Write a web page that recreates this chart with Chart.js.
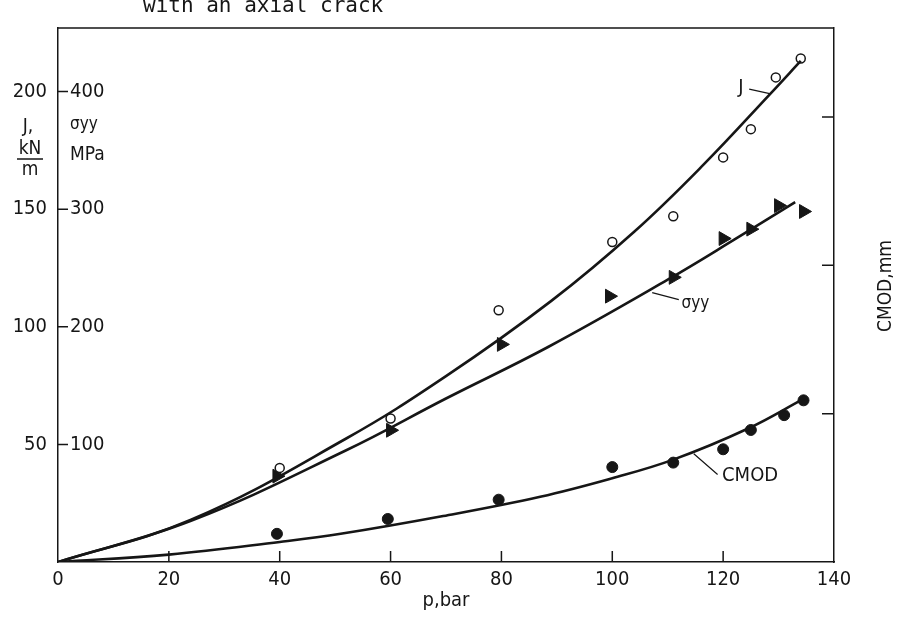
<!DOCTYPE html>
<html>
<head>
<meta charset="utf-8">
<script src="https://cdn.jsdelivr.net/npm/chart.js@4.4.1/dist/chart.umd.min.js"></script>
<style>
  html, body { margin: 0; padding: 0; background: #fff; }
  #wrap { width: 905px; height: 619px; }
</style>
</head>
<body>
<div id="wrap"><canvas id="crackChart" width="905" height="619"></canvas></div>
<script>
// measured points, pressure p in bar
const jPress = [40, 60, 79.5, 100, 111, 120, 125, 129.5, 134];
const jValues = [40, 61, 107, 136, 147, 172, 184, 206, 214];        // J, kN/m

const sPress = [39.5, 60, 80, 99.5, 111, 120, 125, 130, 134.5];
const sValues = [73, 112, 185, 226, 242, 275, 283, 303, 298];       // sigma_yy, MPa

const cPress = [39.5, 59.5, 79.5, 100, 111, 120, 125, 131, 134.5];
const cValues = [0.19, 0.29, 0.42, 0.64, 0.67, 0.76, 0.89, 0.99, 1.09]; // CMOD, mm

// fitted curves as drawn
const jFitPress = [0, 24, 52, 70, 89, 104, 116.5, 128.5, 134];
const jFitValues = [0, 18, 52.5, 79, 111, 140.5, 169, 199, 213];

const sFitPress = [0, 24, 52, 70, 88.5, 110, 122, 133];
const sFitValues = [0, 35, 95, 139, 183, 240, 274, 306];

const cFitPress = [0, 20, 40, 51, 69.5, 87, 100, 111, 124.5, 134.5];
const cFitValues = [0, 0.05, 0.135, 0.19, 0.31, 0.44, 0.565, 0.69, 0.90, 1.10];

// axis ticks
const xTicks = [0, 20, 40, 60, 80, 100, 120, 140];
const jTicks = [50, 100, 150, 200];
const sTicks = [100, 200, 300, 400];
const cmodTicks = [1, 2, 3];

const INK = '#161616';
const FONT = '"Liberation Sans Narrow", "DejaVu Sans Condensed", "Liberation Sans", sans-serif';
const MONO = '"DejaVu Sans Mono", "Liberation Mono", monospace';

const toXY = (xs, ys) => xs.map((v, i) => ({x: v, y: ys[i]}));

function txt(ctx, s, x, y, size, align, font) {
  ctx.font = size + 'px ' + (font || FONT);
  ctx.textAlign = align || 'center';
  ctx.textBaseline = 'middle';
  ctx.fillText(s, x, y);
}

const inkPlugin = {
  id: 'ink',
  afterDraw(chart) {
    const {ctx, chartArea: a, scales} = chart;
    const x = scales.x, y = scales.y, ys = scales.ys, yc = scales.yc;
    ctx.save();
    ctx.strokeStyle = INK;
    ctx.fillStyle = INK;
    ctx.lineWidth = 1.5;

    // frame top + inward tick marks
    ctx.beginPath();
    ctx.moveTo(a.left, a.top); ctx.lineTo(a.right, a.top);
    xTicks.forEach(v => {
      if (v > 0 && v < 140) {
        const px = x.getPixelForValue(v);
        ctx.moveTo(px, a.bottom); ctx.lineTo(px, a.bottom - 11);
      }
    });
    jTicks.forEach(v => {
      const py = y.getPixelForValue(v);
      ctx.moveTo(a.left, py); ctx.lineTo(a.left + 10, py);
    });
    cmodTicks.forEach(v => {
      const py = yc.getPixelForValue(v);
      ctx.moveTo(a.right, py); ctx.lineTo(a.right - 12, py);
    });
    ctx.stroke();

    // second scale labels (sigma, MPa) inside the left axis
    sTicks.forEach(v => txt(ctx, String(v), a.left + 12, ys.getPixelForValue(v), 20, 'left'));

    // axis captions
    txt(ctx, 'J,', 28, 127, 19);
    txt(ctx, 'kN', 30, 149, 19);
    ctx.beginPath(); ctx.moveTo(17, 159); ctx.lineTo(43, 159); ctx.stroke();
    txt(ctx, 'm', 30, 170, 19);
    txt(ctx, 'σyy', a.left + 12, 125, 17, 'left');
    txt(ctx, 'MPa', a.left + 12, 155, 19, 'left');

    ctx.save();
    ctx.translate(886, 286);
    ctx.rotate(-Math.PI / 2);
    txt(ctx, 'CMOD,mm', 0, 0, 19);
    ctx.restore();

    // curve labels with leader lines
    ctx.lineWidth = 1.2;
    ctx.beginPath();
    ctx.moveTo(x.getPixelForValue(124.7), y.getPixelForValue(201));
    ctx.lineTo(x.getPixelForValue(128.6), y.getPixelForValue(199));
    ctx.moveTo(x.getPixelForValue(107.2), ys.getPixelForValue(229));
    ctx.lineTo(x.getPixelForValue(112), ys.getPixelForValue(223));
    ctx.moveTo(x.getPixelForValue(114.7), yc.getPixelForValue(0.73));
    ctx.lineTo(x.getPixelForValue(119), yc.getPixelForValue(0.59));
    ctx.stroke();
    txt(ctx, 'J', x.getPixelForValue(123.2), y.getPixelForValue(201.5), 20);
    txt(ctx, 'σyy', x.getPixelForValue(112.5), ys.getPixelForValue(220), 17, 'left');
    txt(ctx, 'CMOD', x.getPixelForValue(119.8), yc.getPixelForValue(0.58), 20, 'left');

    // caption fragment cut by the page edge
    txt(ctx, 'with an axial crack', 143, 7, 21, 'left', MONO);
    ctx.restore();
  }
};

const lineStyle = {
  showLine: true, borderColor: INK, borderWidth: 2.6, pointRadius: 0,
  tension: 0.4, fill: false
};

const chart = new Chart(document.getElementById('crackChart'), {
  type: 'scatter',
  data: {
    datasets: [
      {label: 'J fit', data: toXY(jFitPress, jFitValues), yAxisID: 'y', ...lineStyle},
      {label: 'σyy fit', data: toXY(sFitPress, sFitValues), yAxisID: 'ys', ...lineStyle},
      {label: 'CMOD fit', data: toXY(cFitPress, cFitValues), yAxisID: 'yc', ...lineStyle},
      {
        label: 'J', data: toXY(jPress, jValues), yAxisID: 'y',
        pointStyle: 'circle', pointRadius: 4.5, borderWidth: 1.5,
        borderColor: INK, backgroundColor: '#fff'
      },
      {
        label: 'σyy', data: toXY(sPress, sValues), yAxisID: 'ys',
        pointStyle: 'triangle', rotation: 90, pointRadius: 8, borderWidth: 1,
        borderColor: INK, backgroundColor: INK
      },
      {
        label: 'CMOD', data: toXY(cPress, cValues), yAxisID: 'yc',
        pointStyle: 'circle', pointRadius: 5.5, borderWidth: 1,
        borderColor: INK, backgroundColor: INK
      }
    ]
  },
  options: {
    responsive: false,
    animation: false,
    layout: {padding: {top: 28, left: 0, right: 0, bottom: 0}},
    plugins: {legend: {display: false}, tooltip: {enabled: false}},
    scales: {
      x: {
        type: 'linear', position: 'bottom', min: 0, max: 140,
        afterBuildTicks: s => { s.ticks = xTicks.map(v => ({value: v})); },
        grid: {display: false, drawTicks: false},
        border: {display: true, color: INK, width: 1.5},
        ticks: {color: INK, font: {family: FONT, size: 20}, padding: 6, maxRotation: 0},
        title: {display: true, text: 'p,bar', color: INK, font: {family: FONT, size: 20}, padding: {top: 0, bottom: 6}},
        afterFit: s => { s.height = 57; }
      },
      y: {
        type: 'linear', position: 'left', min: 0, max: 227,
        afterBuildTicks: s => { s.ticks = jTicks.map(v => ({value: v})); },
        grid: {display: false, drawTicks: false},
        border: {display: true, color: INK, width: 1.5},
        ticks: {color: INK, font: {family: FONT, size: 20}, padding: 11},
        afterFit: s => { s.width = 58; }
      },
      ys: {
        type: 'linear', display: false, min: 0, max: 454
      },
      yc: {
        type: 'linear', position: 'right', min: 0, max: 3.6,
        afterBuildTicks: s => { s.ticks = cmodTicks.map(v => ({value: v})); },
        grid: {display: false, drawTicks: false},
        border: {display: true, color: INK, width: 1.5},
        ticks: {display: false},
        afterFit: s => { s.width = 71; }
      }
    }
  },
  plugins: [inkPlugin]
});
</script>
</body>
</html>
